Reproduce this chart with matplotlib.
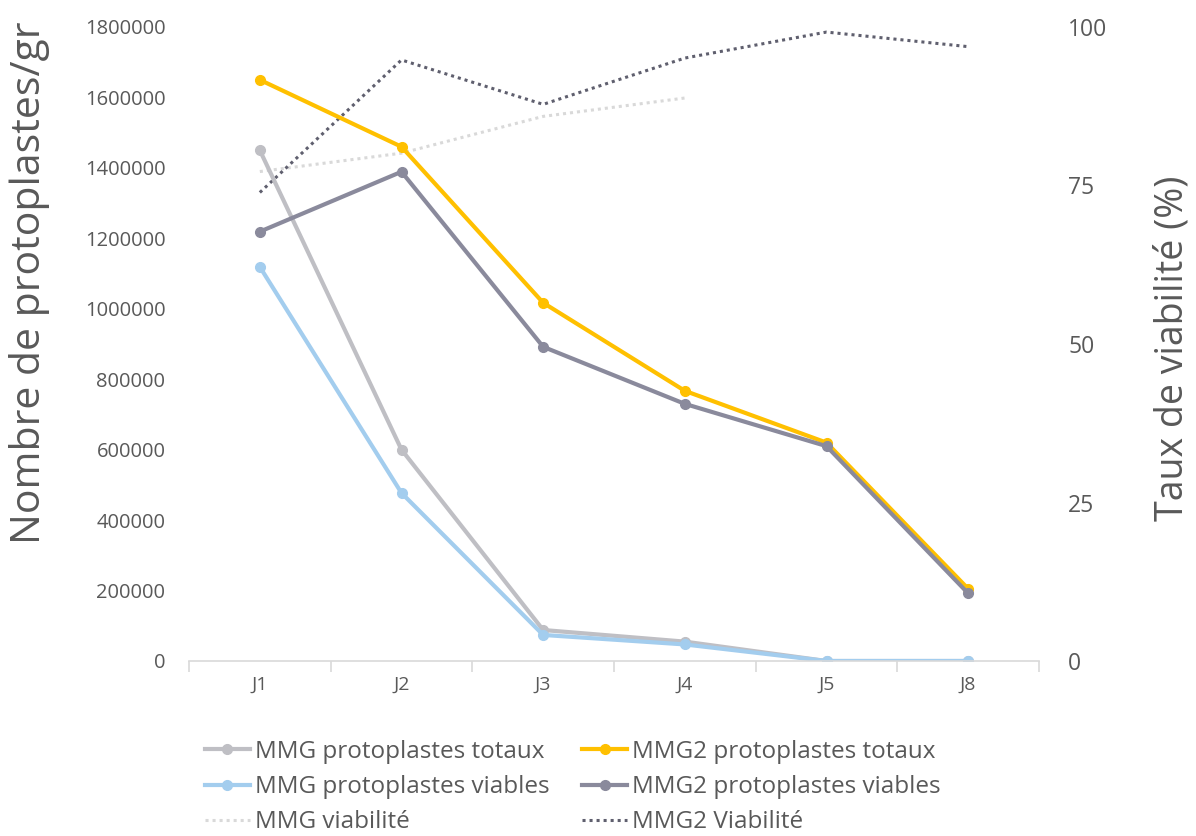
import matplotlib
matplotlib.use("Agg")
import matplotlib.pyplot as plt
from matplotlib.ticker import FixedLocator

plt.rcParams['font.family'] = ['Open Sans', 'DejaVu Sans']

days = ["J1", "J2", "J3", "J4", "J5", "J8"]
mmg_totaux = [1450000, 600000, 88000, 55000, 0, 0]
mmg_viables = [1119000, 477000, 74000, 47000, 0, 0]
mmg2_totaux = [1650000, 1460000, 1017000, 767000, 620000, 205000]
mmg2_viables = [1219000, 1389000, 892000, 730000, 610000, 192000]
mmg_viab = [77.2, 80.1, 85.9, 88.8]
mmg2_viab = [73.9, 94.8, 87.8, 95.1, 99.2, 96.9]

left_ticks = [0, 200000, 400000, 600000, 800000, 1000000, 1200000, 1400000, 1600000, 1800000]
right_ticks = [0, 25, 50, 75, 100]

TXT = "#595959"
fig = plt.figure(figsize=(11.96, 8.36), dpi=100)
ax = fig.add_axes([189/1196, 1-661/836, (1039-189)/1196, (661-27)/836])
ax2 = ax.twinx()

x = list(range(len(days)))
xv = x[:len(mmg_viab)]

l_v1, = ax2.plot(xv, mmg_viab, color="#D9D9D9", lw=2.2, ls=(0, (1, 1.3)), label="MMG viabilité")
l_v2, = ax2.plot(x, mmg2_viab, color="#5F5F6E", lw=2.2, ls=(0, (1, 1.3)), label="MMG2 Viabilité")

l1, = ax.plot(x, mmg_totaux, color="#BFBFC4", lw=3, marker="o", ms=7, label="MMG protoplastes totaux")
l2, = ax.plot(x, mmg_viables, color="#A3CDEE", lw=3, marker="o", ms=7, label="MMG protoplastes viables")
l3, = ax.plot(x, mmg2_totaux, color="#FFC000", lw=3, marker="o", ms=7, label="MMG2 protoplastes totaux")
l4, = ax.plot(x, mmg2_viables, color="#8A8A9C", lw=3, marker="o", ms=7, label="MMG2 protoplastes viables")

ax.set_zorder(ax2.get_zorder() + 1)
ax.patch.set_visible(False)

ax.set_xlim(-0.5, len(days) - 0.5)
ax.set_ylim(0, 1800000)
ax2.set_ylim(0, 100)

ax.set_xticks(x)
ax.set_xticklabels(days)
ax.xaxis.set_minor_locator(FixedLocator([i - 0.5 for i in range(len(days) + 1)]))
ax.tick_params(axis="x", which="major", length=0, pad=11, labelsize=14, labelcolor=TXT)
ax.tick_params(axis="x", which="minor", length=8, width=1.2, color="#D9D9D9", direction="out")

ax.set_yticks(left_ticks)
ax.set_yticklabels([str(v) for v in left_ticks])
ax.tick_params(axis="y", length=0, pad=17, labelsize=14.5, labelcolor=TXT)
ax2.set_yticks(right_ticks)
ax2.tick_params(axis="y", length=0, pad=21, labelsize=16.5, labelcolor=TXT)

for a in (ax, ax2):
    for s in ("top", "left", "right", "bottom"):
        a.spines[s].set_visible(False)
ax.spines["bottom"].set_visible(True)
ax.spines["bottom"].set_color("#D9D9D9")
ax.spines["bottom"].set_linewidth(1.2)

fig.text(30/1196, 1-283/836, "Nombre de protoplastes/gr", rotation=90, ha="center", va="center",
         fontsize=29.5, color=TXT)
fig.text(1172/1196, 1-348/836, "Taux de viabilité (%)", rotation=90, ha="center", va="center",
         fontsize=27, color=TXT)

handles = [l1, l2, l_v1, l3, l4, l_v2]
leg = fig.legend(handles, [h.get_label() for h in handles], ncol=2, loc="upper left",
                 bbox_to_anchor=(205/1196, 1-740/836), frameon=False, fontsize=17.5,
                 handlelength=1.85, handletextpad=0.2, columnspacing=1.35, labelspacing=0.46,
                 borderaxespad=0, borderpad=0)
for t in leg.get_texts():
    t.set_color(TXT)

fig.savefig("out.png", dpi=100)
